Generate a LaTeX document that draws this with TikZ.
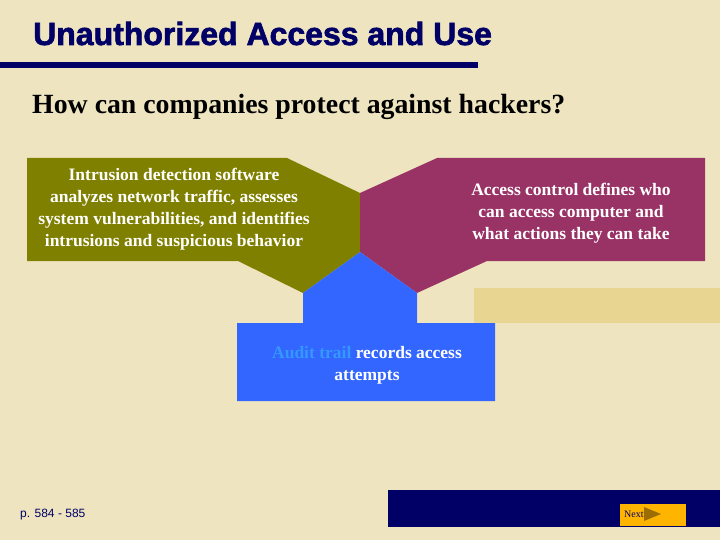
\documentclass[tikz,border=0pt]{standalone}
\usepackage{fontspec}
\setmainfont{Liberation Serif}
\newfontfamily\heavyfont{Liberation Sans}[BoldFeatures={FakeBold=2}]
\newfontfamily\footfont{Liberation Sans}
\definecolor{slidebg}{RGB}{238,229,192}
\definecolor{panelbeige}{RGB}{232,213,146}
\definecolor{navy}{RGB}{0,0,102}
\definecolor{olivebox}{RGB}{128,128,0}
\definecolor{plumbox}{RGB}{153,51,102}
\definecolor{bluebox}{RGB}{51,102,255}
\definecolor{audittext}{RGB}{51,153,255}
\definecolor{nextbtn}{RGB}{255,180,0}
\definecolor{nextarrow}{RGB}{156,110,0}
\usepackage{tikz}
\tikzstyle{slidetitle} = [
    anchor=base west,
    inner sep=0pt,
    text=navy,
    font=\heavyfont\fontsize{32}{32}\selectfont\bfseries
]
\tikzstyle{subtitletext} = [
    anchor=base west,
    inner sep=0pt,
    text=black,
    font=\fontsize{27.8}{30}\selectfont\bfseries
]
\tikzstyle{boxtext} = [
    inner sep=0pt,
    text=white,
    align=center,
    font=\fontsize{17.5}{22}\selectfont\bfseries
]
\tikzstyle{footer} = [
    anchor=west,
    inner sep=0pt,
    text=navy,
    font=\footfont\fontsize{12}{12}\selectfont
]
\tikzstyle{nextbutton} = [
    rectangle,
    fill=nextbtn,
    minimum width=66pt,
    minimum height=22pt,
    inner sep=0pt
]

\begin{document}
\begin{tikzpicture}[x=1pt, y=-1pt]
    % Slide background
    \fill[slidebg] (0,0) rectangle (720,540);
    \useasboundingbox (0,0) rectangle (720,540);

    % Title and rule
    \node[slidetitle] (title) at (33,45) {Unauthorized Access and Use};
    \fill[navy] (0,62.5) rectangle (478,68);
    \node[subtitletext] (question) at (32,114) {How can companies protect against hackers?};

    % Light panel on the right
    \fill[panelbeige] (474,288) rectangle (720,323);

    % Three shapes meeting in the middle
    \fill[olivebox] (27,158) -- (287,158) -- (360,193) -- (360,252) -- (303,293)
        -- (238,261) -- (27,261) -- cycle;
    \fill[plumbox] (705,158) -- (437,158) -- (360,193) -- (360,252) -- (417,293)
        -- (487,261) -- (705,261) -- cycle;
    \fill[bluebox] (237,401) -- (237,323) -- (303,323) -- (303,293) -- (360,252)
        -- (417,293) -- (417,323) -- (495,323) -- (495,401) -- cycle;

    % Texts
    \node[boxtext] (detect) at (174,209)
        {Intrusion detection software\\analyzes network traffic, assesses\\system vulnerabilities, and identifies\\intrusions and suspicious behavior};
    \node[boxtext] (control) at (571,213)
        {Access control defines who\\can access computer and\\what actions they can take};
    \node[boxtext] (audit) at (367,365)
        {\textcolor{audittext}{Audit trail} records access\\attempts};

    % Footer
    \node[footer] (pages) at (20,515) {p. 584 - 585};
    \fill[navy] (388,490) rectangle (720,527);
    \node[nextbutton] (next) at (653,515) {};
    \node[anchor=west, inner sep=0pt, text=navy, font=\fontsize{10}{10}\selectfont]
        (nextlabel) at (624,514) {Next};
    \fill[nextarrow] (644,507) -- (661,514) -- (644,521) -- cycle;
\end{tikzpicture}
\end{document}
